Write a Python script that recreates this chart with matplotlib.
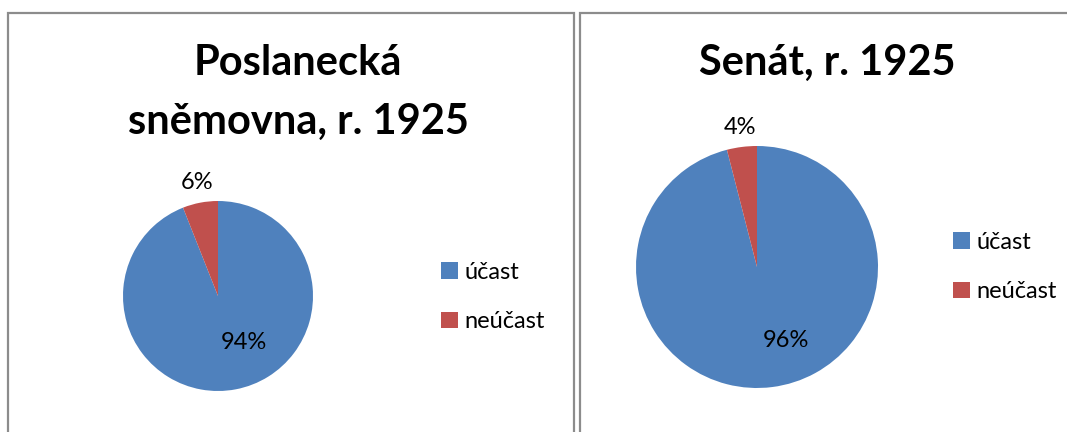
import matplotlib
matplotlib.use("Agg")
import matplotlib.pyplot as plt
from matplotlib.patches import Rectangle, Patch

# data
categories = ["účast", "neúčast"]
colors = ["#4F81BD", "#C0504D"]
titles = ["Poslanecká\nsněmovna, r. 1925", "Senát, r. 1925"]
poslanci = [94, 6]
senat = [96, 4]

plt.rcParams['font.family'] = ['Lato', 'DejaVu Sans']

W, H = 1067, 432
fig = plt.figure(figsize=(W / 100, H / 100), dpi=100)

def fx(px):
    return px / W

def fy(px):
    return 1 - px / H

# panel borders (gray frames, cut off at the bottom / right)
for x0, x1 in [(8, 574), (580, 1080)]:
    fig.patches.append(Rectangle((fx(x0), fy(445)), fx(x1 - x0), (445 - 13) / H,
                                 transform=fig.transFigure, fill=False,
                                 edgecolor="#8C8C8C", lw=1.6))

# layout per panel: pie center, radius, title position, legend position, label offsets
panels = [
    dict(vals=poslanci, title=titles[0], cx=218, cy=296, r=95,
         tx=298, ty=44, lx=441, ly=297,
         lab=[(0.27, -0.49), (-0.22, 1.19)]),
    dict(vals=senat, title=titles[1], cx=757, cy=267, r=121,
         tx=827, ty=44, lx=953, ly=267,
         lab=[(0.24, -0.61), (-0.14, 1.15)]),
]

for p in panels:
    r = p["r"]
    ax = fig.add_axes([fx(p["cx"] - r), fy(p["cy"] + r), 2 * r / W, 2 * r / H])
    wedges, _ = ax.pie(p["vals"], colors=colors, startangle=90, counterclock=False,
                       radius=1, wedgeprops=dict(linewidth=0))
    ax.set_xlim(-1, 1)
    ax.set_ylim(-1, 1)
    ax.axis("off")
    total = sum(p["vals"])
    for v, (dx, dy) in zip(p["vals"], p["lab"]):
        ax.text(dx, dy, "%d%%" % round(100 * v / total), ha="center", va="center",
                fontsize=17, color="black", clip_on=False)
    fig.text(fx(p["tx"]), fy(p["ty"]), p["title"], ha="center", va="top",
             fontsize=30, fontweight="bold", linespacing=1.68)
    handles = [Patch(facecolor=c, edgecolor="none") for c in colors]
    fig.legend(handles, categories, loc="center left",
               bbox_to_anchor=(fx(p["lx"]), fy(p["ly"])), frameon=False,
               fontsize=17, handlelength=0.7, handleheight=0.7,
               handletextpad=0.3, labelspacing=1.2, borderpad=0,
               borderaxespad=0)

fig.savefig("out.png", dpi=100)
